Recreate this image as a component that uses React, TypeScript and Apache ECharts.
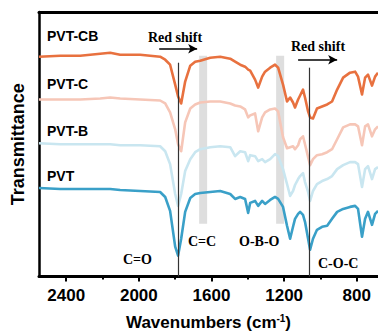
import React, { useEffect, useRef } from "react";
import * as echarts from "echarts";

const wavenumbers = [2550, 2433, 2323, 2213, 2158, 2103, 1993, 1883, 1855, 1828, 1800, 1784, 1767, 1745, 1717, 1690, 1662, 1607, 1552, 1497, 1470, 1442, 1415, 1398, 1387, 1360, 1343, 1321, 1305, 1277, 1250, 1233, 1206, 1184, 1167, 1151, 1140, 1123, 1112, 1096, 1085, 1068, 1057, 1041, 1019, 991, 963, 936, 908, 875, 837, 809, 793, 771, 754, 738, 716, 699, 683];

const pvtCB = [221, 222, 222, 224, 225, 223, 223, 221, 218, 213, 193, 181, 174, 196, 212, 216, 217, 220, 221, 219, 216, 213, 211, 208, 207, 198, 190, 201, 206, 210, 213, 210, 193, 176, 180, 175, 170, 178, 182, 188, 180, 166, 160, 159, 169, 171, 173, 176, 188, 200, 205, 206, 201, 183, 200, 203, 192, 201, 205];
const pvtC = [178, 178, 178, 179, 180, 179, 178, 177, 174, 165, 148, 133, 126, 155, 169, 173, 175, 176, 176, 174, 172, 171, 168, 160, 162, 164, 146, 160, 165, 168, 169, 166, 140, 129, 130, 131, 128, 132, 138, 141, 133, 120, 112, 118, 122, 123, 125, 128, 138, 150, 153, 153, 151, 132, 151, 153, 141, 148, 151];
const pvtB = [134, 133, 133, 133, 133, 132, 132, 131, 126, 113, 83, 71, 83, 106, 118, 125, 128, 130, 131, 130, 121, 126, 125, 116, 122, 121, 116, 118, 115, 118, 123, 121, 108, 93, 81, 86, 92, 98, 101, 104, 95, 85, 76, 86, 93, 96, 98, 101, 108, 112, 115, 115, 113, 90, 108, 111, 98, 108, 110];
const pvt = [89, 88, 88, 88, 88, 87, 86, 85, 80, 66, 30, 21, 38, 65, 79, 83, 84, 85, 86, 83, 78, 80, 78, 64, 74, 76, 71, 76, 73, 77, 80, 78, 70, 51, 38, 50, 58, 63, 65, 62, 55, 38, 27, 38, 47, 50, 51, 58, 65, 68, 70, 71, 68, 40, 58, 65, 52, 63, 66];

const seriesNames = ["PVT", "PVT-B", "PVT-C", "PVT-CB"];
const seriesColors = ["#3aa0c8", "#c9e6f0", "#f6c6b7", "#e8713f"];
const majorTicks = [2400, 2000, 1600, 1200, 800];
const minorTicks = [2200, 1800, 1400, 1000];
const bands = [[1668, 1624], [1244, 1200]];
const peakLines = [1785, 1060];
const peakLineTops = [215, 210];
const shiftArrows = [[1888, 1679, 229], [1123, 908, 218]];

const X_LOW = 683;
const X_HIGH = 2550;
const Y_MAX = 266;

export default function App() {
  const ref = useRef<HTMLDivElement>(null);
  useEffect(() => {
    if (!ref.current) return;
    const chart = echarts.init(ref.current, undefined, { renderer: "svg" });
    const allSeries = [pvt, pvtB, pvtC, pvtCB];
    const serif = "'Liberation Serif', 'Times New Roman', serif";
    const sans = "'Liberation Sans', Arial, sans-serif";
    const baseAxis = {
      type: "value",
      min: X_LOW,
      max: X_HIGH,
      inverse: true,
      splitLine: { show: false },
    };
    const option: any = {
      animation: false,
      grid: { left: 39, right: 0, top: 12, bottom: 58 },
      xAxis: [
        {
          ...baseAxis,
          position: "bottom",
          name: "Wavenumbers (cm{sup|-1})",
          nameLocation: "middle",
          nameGap: 37,
          nameTextStyle: {
            fontFamily: sans,
            fontWeight: "bold",
            fontSize: 17,
            color: "#000",
            rich: { sup: { fontSize: 10, fontWeight: "bold", fontFamily: sans, verticalAlign: "top", padding: [0, 0, 8, 0] } },
          },
          axisLine: { show: true, lineStyle: { color: "#000", width: 3 } },
          axisTick: { show: true, inside: false, length: 5, lineStyle: { color: "#000", width: 2 }, customValues: majorTicks },
          axisLabel: {
            show: true,
            customValues: majorTicks,
            formatter: (v: number) => String(Math.round(v)),
            margin: 10,
            fontFamily: sans,
            fontWeight: "bold",
            fontSize: 17,
            color: "#000",
          },
        },
        {
          ...baseAxis,
          position: "bottom",
          axisLine: { show: false },
          axisTick: { show: true, inside: false, length: 3, lineStyle: { color: "#000", width: 2 }, customValues: minorTicks },
          axisLabel: { show: false },
        },
        {
          ...baseAxis,
          position: "top",
          axisLine: { show: true, lineStyle: { color: "#000", width: 3 } },
          axisTick: { show: false },
          axisLabel: { show: false },
        },
      ],
      yAxis: {
        type: "value",
        min: 0,
        max: Y_MAX,
        name: "Transmittance",
        nameLocation: "middle",
        nameGap: 12,
        nameTextStyle: { fontFamily: sans, fontWeight: "bold", fontSize: 18, color: "#000" },
        axisLine: { show: true, lineStyle: { color: "#000", width: 2.5 } },
        axisTick: { show: false },
        axisLabel: { show: false },
        splitLine: { show: false },
      },
      series: [
        ...allSeries.map((vals, i) => ({
          name: seriesNames[i],
          type: "line",
          data: wavenumbers.map((w, j) => [w, vals[j]]),
          showSymbol: false,
          symbol: "none",
          lineStyle: { color: seriesColors[i], width: 2.6, join: "round" },
          z: 2,
        })),
        {
          type: "line",
          data: [],
          z: 5,
          silent: true,
          markArea: {
            silent: true,
            itemStyle: { color: "rgba(195,195,195,0.55)" },
            data: bands.map((b) => [{ coord: [b[0], 53] }, { coord: [b[1], 222] }]),
          },
          markLine: {
            silent: true,
            symbol: ["none", "none"],
            label: { show: false },
            lineStyle: { color: "#333", width: 1.2, type: "solid" },
            data: [
              ...peakLines.map((w, i) => [{ coord: [w, 0] }, { coord: [w, peakLineTops[i]] }]),
              ...shiftArrows.map((a) => [
                { coord: [a[0], a[2]], symbol: "none", lineStyle: { color: "#000", width: 1.5 } },
                { coord: [a[1], a[2]], symbol: "arrow", symbolSize: [7, 9], lineStyle: { color: "#000", width: 1.5 } },
              ]),
            ],
          },
        },
      ],
      graphic: [
        { type: "text", left: 47, top: 29, style: { text: "PVT-CB", font: `bold 14px ${sans}`, fill: "#000" } },
        { type: "text", left: 47, top: 77, style: { text: "PVT-C", font: `bold 14px ${sans}`, fill: "#000" } },
        { type: "text", left: 47, top: 124, style: { text: "PVT-B", font: `bold 14px ${sans}`, fill: "#000" } },
        { type: "text", left: 47, top: 169, style: { text: "PVT", font: `bold 14px ${sans}`, fill: "#000" } },
        { type: "text", left: 148, top: 30, style: { text: "Red shift", font: `bold 14px ${serif}`, fill: "#000" } },
        { type: "text", left: 291, top: 39, style: { text: "Red shift", font: `bold 14px ${serif}`, fill: "#000" } },
        { type: "text", left: 123, top: 252, style: { text: "C=O", font: `bold 14px ${serif}`, fill: "#000" } },
        { type: "text", left: 188, top: 234, style: { text: "C=C", font: `bold 14px ${serif}`, fill: "#000" } },
        { type: "text", left: 239, top: 234, style: { text: "O-B-O", font: `bold 14px ${serif}`, fill: "#000" } },
        { type: "text", left: 318, top: 256, style: { text: "C-O-C", font: `bold 14px ${serif}`, fill: "#000" } },
      ],
    };
    chart.setOption(option);
    return () => chart.dispose();
  }, []);
  return <div ref={ref} style={{ width: 378, height: 336, position: "absolute", left: 0, top: 0 }} />;
}
